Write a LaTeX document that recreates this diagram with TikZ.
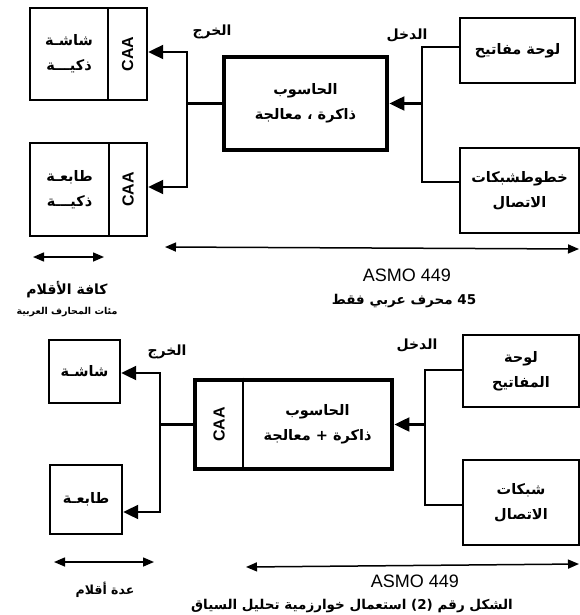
\documentclass[tikz,border=0pt]{standalone}
\usepackage{fontspec}
\usetikzlibrary{arrows.meta}
\TeXXeTstate=1
\newfontfamily\arabicfont[Script=Arabic]{DejaVu Sans}
\setsansfont{Liberation Sans}
\newcommand{\rl}[1]{\beginR #1\endR}
\begin{document}
\begin{tikzpicture}[x=1pt,y=-1pt,
  box/.style={draw, line width=2.4pt, inner sep=0pt, align=center,
    font=\arabicfont\bfseries\fontsize{14.5}{25}\selectfont},
  cbox/.style={draw, line width=2.4pt, inner sep=0pt,
    font=\sffamily\bfseries\fontsize{16}{16}\selectfont},
  compbox/.style={draw, line width=4.8pt, inner sep=0pt, align=center,
    font=\arabicfont\bfseries\fontsize{14.5}{25}\selectfont},
  plain/.style={inner sep=0pt, align=center},
  conn/.style={line width=2.1pt, line join=miter},
  arr/.style={line width=2.1pt, line join=miter, -{Triangle[length=15pt,width=14pt]}},
  darr/.style={line width=1.5pt, {Triangle[length=11pt,width=9pt]}-{Triangle[length=11pt,width=9pt]}},
  lbl/.style={inner sep=0pt, font=\arabicfont\bfseries\fontsize{14}{14}\selectfont},
  latin/.style={inner sep=0pt, font=\sffamily\fontsize{18}{18}\selectfont},
]
\useasboundingbox (0,0) rectangle (580,615);

% ---------- top diagram ----------
\node[box, minimum width=78pt, minimum height=92pt] (scr1) at (69,54) {\rl{شاشـة}\\\rl{ذكيـــة}};
\node[cbox, minimum width=39pt, minimum height=92pt] (scr1c) at (127.5,54) {\rotatebox{90}{CAA}};
\node[box, minimum width=79pt, minimum height=93pt] (prn1) at (69.5,189.5) {\rl{طابعـة}\\\rl{ذكيـــة}};
\node[cbox, minimum width=38pt, minimum height=93pt] (prn1c) at (128,189.5) {\rotatebox{90}{CAA}};
\node[compbox, minimum width=163pt, minimum height=93pt] (comp1) at (305.5,103.5) {\rl{الحاسوب}\\\rl{ذاكرة ، معالجة}};
\node[box, minimum width=115pt, minimum height=65pt] (kbd1) at (517.5,50.5) {\rl{لوحة مفاتيح}};
\node[box, minimum width=119pt, minimum height=85pt] (net1) at (519.5,190.5) {\rl{خطوطشبكات}\\\rl{الاتصال}};

\coordinate (o1t) at (187,52);
\coordinate (o1b) at (187,187);
\draw[arr] (o1b) -- (o1t) -- (o1t -| scr1c.east);
\draw[arr] (o1t) -- (o1b) -- (o1b -| prn1c.east);
\draw[conn] (comp1.west) -- (comp1.west -| o1t);

\coordinate (i1t) at (422,47);
\coordinate (i1b) at (422,182);
\draw[conn] (i1t -| kbd1.west) -- (i1t) -- (i1b) -- (i1b -| net1.west);
\draw[arr] (i1t |- comp1.east) -- (comp1.east);

\node[lbl] (out1) at (212,32) {\rl{الخرج}};
\node[lbl] (in1) at (407,35) {\rl{الدخل}};

\coordinate (da1) at (33,257);
\coordinate (db1) at (104,257);
\draw[darr] (da1) -- (db1);
\coordinate (da2) at (165,247);
\coordinate (db2) at (579,249);
\draw[darr] (da2) -- (db2);

\node[latin] (asmo1) at (407,275) {ASMO 449};
\node[lbl, font=\arabicfont\bfseries\fontsize{13.5}{14}\selectfont] (cnt1) at (404,301) {\rl{\beginL 45\endL{} محرف عربي فقط}};
\node[lbl, font=\arabicfont\bfseries\fontsize{14}{14}\selectfont] (all1) at (67,290) {\rl{كافة الأقلام}};
\node[lbl, font=\arabicfont\bfseries\fontsize{9.5}{9.5}\selectfont] (hund1) at (67,312) {\rl{مئات المحارف العربية}};

% ---------- bottom diagram ----------
\node[box, minimum width=71pt, minimum height=63pt] (scr2) at (84.5,371.5) {\rl{شاشـة}};
\node[box, minimum width=72pt, minimum height=69pt] (prn2) at (86,499.5) {\rl{طابعـة}};
\node[compbox, minimum width=197pt, minimum height=89pt] (comp2) at (293.5,424.5) {};
\node[plain, minimum width=48pt, minimum height=89pt, font=\sffamily\bfseries\fontsize{16}{16}\selectfont] (comp2c) at (219,424.5) {\rotatebox{90}{CAA}};
\node[plain, font=\arabicfont\bfseries\fontsize{14.5}{25}\selectfont] (comp2t) at (317.5,424.5) {\rl{الحاسوب}\\\rl{ذاكرة + معالجة}};
\draw[line width=2.2pt] (comp2c.east |- comp2.north) -- (comp2c.east |- comp2.south);
\node[box, minimum width=116pt, minimum height=72pt] (kbd2) at (521,371) {\rl{لوحة}\\\rl{المفاتيح}};
\node[box, minimum width=116pt, minimum height=85pt] (net2) at (521,502.5) {\rl{شبكات}\\\rl{الاتصال}};

\coordinate (o2t) at (160,373);
\coordinate (o2b) at (160,512);
\draw[arr] (o2b) -- (o2t) -- (o2t -| scr2.east);
\draw[arr] (o2t) -- (o2b) -- (o2b -| prn2.east);
\draw[conn] (comp2.west) -- (comp2.west -| o2t);

\coordinate (i2t) at (425,370);
\coordinate (i2b) at (425,505);
\draw[conn] (i2t -| kbd2.west) -- (i2t) -- (i2b) -- (i2b -| net2.west);
\draw[arr] (i2t |- comp2.east) -- (comp2.east);

\node[lbl] (out2) at (167,352) {\rl{الخرج}};
\node[lbl] (in2) at (417,345) {\rl{الدخل}};

\coordinate (da3) at (54,562);
\coordinate (db3) at (154,562);
\draw[darr] (da3) -- (db3);
\coordinate (da4) at (246,567);
\coordinate (db4) at (579,564);
\draw[darr] (da4) -- (db4);

\node[latin] (asmo2) at (415,581) {ASMO 449};
\node[lbl, font=\arabicfont\bfseries\fontsize{12.5}{12.5}\selectfont] (few) at (105,590) {\rl{عدة أقلام}};
\node[lbl, font=\arabicfont\bfseries\fontsize{13.5}{13.5}\selectfont] (cap) at (352,606) {\rl{الشكل رقم \beginL(2)\endL{} استعمال خوارزمية تحليل السياق}};
\end{tikzpicture}
\end{document}
